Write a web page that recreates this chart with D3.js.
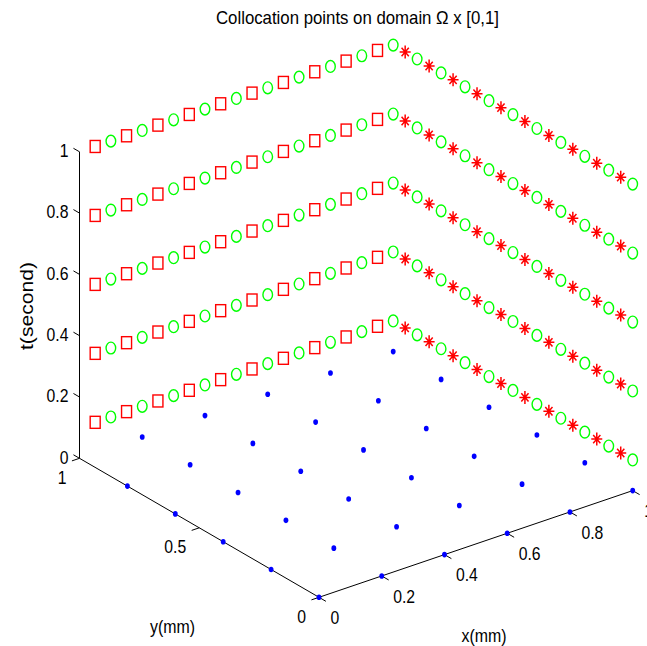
<!DOCTYPE html>
<html>
<head>
<meta charset="utf-8">
<script src="https://cdn.jsdelivr.net/npm/d3@7"></script>
<style>
  html, body { margin: 0; padding: 0; background: #fff; overflow: hidden; }
  svg { display: block; }
  text { font-family: "Liberation Sans", Arial, sans-serif; fill: #000; }
</style>
</head>
<body>
<div id="chart"></div>
<script>
// axis ticks
const xTicks = [0, 0.2, 0.4, 0.6, 0.8, 1];
const yTicks = [0, 0.5, 1];
const tTicks = [0, 0.2, 0.4, 0.6, 0.8, 1];
const xTickLabels = ["0", "0.2", "0.4", "0.6", "0.8", "1"];
const yTickLabels = ["0", "0.5", "1"];
const tTickLabels = ["0", "0.2", "0.4", "0.6", "0.8", "1"];

// time levels of the boundary collocation points
const timeLevels = [0.1, 0.325, 0.55, 0.775, 1.0];

// boundary y = 1 : squares and circles along x
const squareX = [0.05, 0.15, 0.25, 0.35, 0.45, 0.55, 0.65, 0.75, 0.85, 0.95];
const circleX = [0.1, 0.2, 0.3, 0.4, 0.5, 0.6, 0.7, 0.8, 0.9, 1.0];
// boundary x = 1 : stars and circles along y
const starY = [0.95, 0.85, 0.75, 0.65, 0.55, 0.45, 0.35, 0.25, 0.15, 0.05];
const circleY = [0.9, 0.8, 0.7, 0.6, 0.5, 0.4, 0.3, 0.2, 0.1, 0.0];

// interior points on t = 0 (grid, corner x=0,y=1 not used)
const gridX = [0, 0.2, 0.4, 0.6, 0.8, 1];
const gridY = [0, 0.2, 0.4, 0.6, 0.8, 1];
const skipped = [[0, 1]];

const W = 647, H = 646;
const svg = d3.select("#chart").append("svg").attr("width", W).attr("height", H);

// oblique 3d projection, one scale per screen component
const O = [319, 597.3];
const xH = d3.scaleLinear().domain([0, 1]).range([0, 313.7]);
const xV = d3.scaleLinear().domain([0, 1]).range([0, -106.7]);
const yH = d3.scaleLinear().domain([0, 1]).range([0, -239.5]);
const yV = d3.scaleLinear().domain([0, 1]).range([0, -139]);
const tV = d3.scaleLinear().domain([0, 1]).range([0, -306.5]);
const proj = (x, y, t) => [O[0] + xH(x) + yH(y), O[1] + xV(x) + yV(y) + tV(t)];

const g = svg.append("g");

// axes lines
const line = d3.line();
const axisG = g.append("g").attr("stroke", "#000").attr("stroke-width", 1).attr("fill", "none");
axisG.append("path").attr("d", line([proj(0, 1, 0), proj(0, 1, 1)]));
axisG.append("path").attr("d", line([proj(0, 1, 0), proj(0, 0, 0)]));
axisG.append("path").attr("d", line([proj(0, 0, 0), proj(1, 0, 0)]));

const dX = [0.865, 0.502], dY = [-0.947, 0.322], dT = [-0.865, -0.502];
xTicks.forEach(v => {
  const p = proj(v, 0, 0);
  axisG.append("path").attr("d", line([p, [p[0] + dX[0] * 8, p[1] + dX[1] * 8]]));
});
yTicks.forEach(v => {
  const p = proj(0, v, 0);
  axisG.append("path").attr("d", line([p, [p[0] + dY[0] * 8, p[1] + dY[1] * 8]]));
});
tTicks.forEach(v => {
  const p = proj(0, 1, v);
  axisG.append("path").attr("d", line([p, [p[0] + dT[0] * 7, p[1] + dT[1] * 7]]));
});

function label(str, x, y, anchor, size, sx, rot) {
  return g.append("text")
    .attr("transform", `translate(${x},${y})${rot ? " rotate(" + rot + ")" : ""} scale(${sx},1)`)
    .attr("text-anchor", anchor).style("font-size", size + "px").text(str);
}

xTicks.forEach((v, i) => {
  const p = proj(v, 0, 0);
  label(xTickLabels[i], p[0] + 11.5, p[1] + 26.8, "start", 17.5, 0.9);
});
yTicks.forEach((v, i) => {
  const p = proj(0, v, 0);
  label(yTickLabels[i], p[0] - 13, p[1] + 25.3, "end", 17.5, 0.9);
});
tTicks.forEach((v, i) => {
  const p = proj(0, 1, v);
  label(tTickLabels[i], 68.5, p[1] + 5.3, "end", 17.5, 0.9);
});

// titles
g.append("text").attr("x", 357.5).attr("y", 24.3).attr("text-anchor", "middle")
  .style("font-size", "18.5px").attr("textLength", 283).attr("lengthAdjust", "spacingAndGlyphs")
  .text("Collocation points on domain \u03A9 x [0,1]");
g.append("text").attr("x", 172.5).attr("y", 633).attr("text-anchor", "middle")
  .style("font-size", "18px").attr("textLength", 45).attr("lengthAdjust", "spacingAndGlyphs").text("y(mm)");
g.append("text").attr("x", 484).attr("y", 641.5).attr("text-anchor", "middle")
  .style("font-size", "18px").attr("textLength", 45).attr("lengthAdjust", "spacingAndGlyphs").text("x(mm)");
g.append("text").attr("transform", "translate(33,306) rotate(-90)").attr("text-anchor", "middle")
  .style("font-size", "18px").attr("textLength", 88).attr("lengthAdjust", "spacingAndGlyphs").text("t(second)");

// interior points (blue dots)
const dots = [];
gridX.forEach(x => gridY.forEach(y => {
  if (!skipped.some(s => s[0] === x && s[1] === y)) dots.push([x, y]);
}));
g.append("g").selectAll("ellipse").data(dots).join("ellipse")
  .attr("cx", d => proj(d[0], d[1], 0)[0]).attr("cy", d => proj(d[0], d[1], 0)[1])
  .attr("rx", 2.4).attr("ry", 2.8).attr("fill", "#0000ff");

// boundary points
const squares = [], circles = [], stars = [];
timeLevels.forEach(t => {
  squareX.forEach(x => squares.push(proj(x, 1, t)));
  circleX.forEach(x => circles.push(proj(x, 1, t)));
  starY.forEach(y => stars.push(proj(1, y, t)));
  circleY.forEach(y => circles.push(proj(1, y, t)));
});

g.append("g").selectAll("rect").data(squares).join("rect")
  .attr("x", d => d[0] - 5).attr("y", d => d[1] - 6).attr("width", 10).attr("height", 12)
  .attr("fill", "none").attr("stroke", "#ff0000").attr("stroke-width", 1.4);

g.append("g").selectAll("ellipse").data(circles).join("ellipse")
  .attr("cx", d => d[0]).attr("cy", d => d[1]).attr("rx", 4.8).attr("ry", 5.9)
  .attr("fill", "none").attr("stroke", "#00ff00").attr("stroke-width", 1.4);

const starPath = "M0,-6.5V6.5M-5.5,0H5.5M-3.6,-4.2L3.6,4.2M-3.6,4.2L3.6,-4.2";
g.append("g").selectAll("path").data(stars).join("path")
  .attr("transform", d => `translate(${d[0]},${d[1]})`).attr("d", starPath)
  .attr("fill", "none").attr("stroke", "#ff0000").attr("stroke-width", 1.5);
</script>
</body>
</html>
